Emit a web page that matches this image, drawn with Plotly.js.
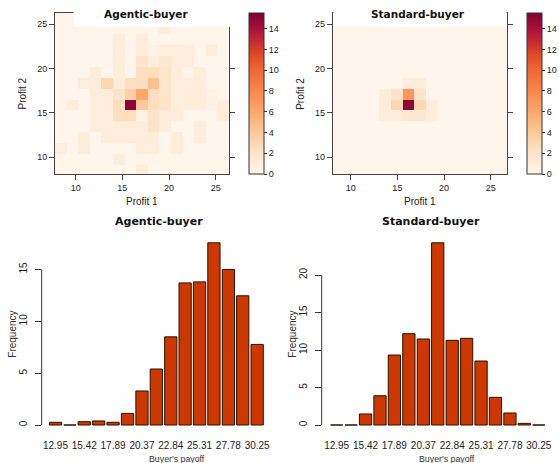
<!DOCTYPE html>
<html>
<head>
<meta charset="utf-8">
<script src="https://cdn.plot.ly/plotly-3.0.1.min.js"></script>
<style>html,body{margin:0;padding:0;background:#fff;}#chart{width:559px;height:463px;}</style>
</head>
<body>
<div id="chart"></div>
<script>
// ---------- DATA ----------
// Heatmap cell centres (Profit 1 / Profit 2 bins)
const profit1Agentic = [8.40, 9.65, 10.89, 12.13, 13.38, 14.62, 15.86, 17.10, 18.35, 19.59, 20.83, 22.08, 23.32, 24.56, 25.81];
const profit1Standard = [8.69, 9.94, 11.19, 12.43, 13.68, 14.93, 16.18, 17.42, 18.67, 19.92, 21.16, 22.41, 23.66, 24.90, 26.15];
const profit2Bins = [8.46, 9.70, 10.93, 12.17, 13.40, 14.64, 15.87, 17.11, 18.34, 19.58, 20.81, 22.05, 23.28, 24.52];

// Agentic-buyer counts, rows from bottom (Profit 2 = 8.46) to top (24.52)
const heatAgentic = [
  [0,0,0,0,0,0,0,1,0,0,0,0,0,0,0],
  [0,0,0,0,0,1,0,0,0,0,0,0,0,0,0],
  [1,0,1,0,0,0,0,1,1,0,1,0,0,0,0],
  [0,0,1,0,1,1,1,1,1,0,1,0,1,0,0],
  [0,0,0,1,1,1,1,1,2,1,0,0,1,0,0],
  [0,0,0,1,1,2.5,2.5,0.5,2,1,1,0,0,0,1],
  [0,1,0,1,1,2.5,15,4,2.5,2,1,1,1,0.5,1],
  [0,0,0,1,1,2,3.5,6,2.5,2,1,1,1,0.5,0],
  [0,0,1,1,3,1,2.5,2.5,4.5,2,1,1,1,0,0],
  [0,0,0,1,0,1,0,2.5,2.5,2,1,0.3,1,0,0],
  [0,0,0,0,0,1,0,2,1,1.5,1,1,0,0,0],
  [0,0,0,0,0,1,0,1,0.5,1,1,1,0,1,0],
  [0,0,0,0,0,1,0,1,0,0,0,0,0,0,0],
  [0,0,0,0,0,0,0,0,0,1,0,0,0,0,0]
];
// Standard-buyer counts, same row order
const heatStandard = [
  [0,0,0,0,0,0,0,0,0,0,0,0,0,0,0],
  [0,0,0,0,0,0,0,0,0,0,0,0,0,0,0],
  [0,0,0,0,0,0,0,0,0,0,0,0,0,0,0],
  [0,0,0,0,0,0,0,0,0,0,0,0,0,0,0],
  [0,0,0,0,0,0,0,0,0,0,0,0,0,0,0],
  [0,0,0,0,1,1,1.5,1.5,1,0,0,0,0,0,0],
  [0,0,0,0,1,3,15,3,1,0,0,0,0,0,0],
  [0,0,0,0,1,2,7,2,0,0,0,0,0,0,0],
  [0,0,0,0,0,0,1,1,0,0,0,0,0,0,0],
  [0,0,0,0,0,0,0,0,0,0,0,0,0,0,0],
  [0,0,0,0,0,0,0,0,0,0,0,0,0,0,0],
  [0,0,0,0,0,0,0,0,0,0,0,0,0,0,0],
  [0,0,0,0,0,0,0,0,0,0,0,0,0,0,0],
  [0,0,0,0,0,0,0,0,0,0,0,0,0,0,0]
];

// Histogram of buyer's payoff (percent)
const payoffBins = [12.95, 14.19, 15.42, 16.66, 17.89, 19.13, 20.37, 21.60, 22.84, 24.07, 25.31, 26.54, 27.78, 29.01, 30.25];
const payoffTickLabels = ["12.95","15.42","17.89","20.37","22.84","25.31","27.78","30.25"];
const freqAgentic = [0.26, 0, 0.32, 0.39, 0.26, 1.12, 3.28, 5.40, 8.50, 13.70, 13.80, 17.57, 15.00, 12.46, 7.77];
const freqStandard = [0, 0, 1.47, 3.90, 9.33, 12.18, 11.47, 24.30, 11.29, 11.56, 8.53, 3.69, 1.60, 0.22, 0];

const heatTicks = [10, 15, 20, 25];
const cbTicks = [0, 2, 4, 6, 8, 10, 12, 14];
const histTickVals = payoffBins.filter((v, i) => i % 2 === 0);

// ---------- LAYOUT HELPERS ----------
const W = 559, H = 463;
const fx = p => p / W;
const fy = p => 1 - p / H;
const base = '#FEF4EA';
const colorscale = [
  [0.00, '#FFF5EB'],
  [0.13, '#FEE4CA'],
  [0.26, '#FDC998'],
  [0.39, '#FDA66C'],
  [0.52, '#F8864A'],
  [0.645, '#EE6834'],
  [0.74, '#E04A25'],
  [0.82, '#C82A30'],
  [0.90, '#A8123A'],
  [1.00, '#800033']
];
const regFont = '"Liberation Sans", Arial, sans-serif';
const boldFont = '"DejaVu Sans", sans-serif';
const axCol = '#444';

function cb(xpx) {
  return {
    x: fx(xpx), xanchor: 'left', xpad: 0, xref: 'paper',
    y: fy(13), yanchor: 'top', ypad: 0, yref: 'paper',
    len: 161, lenmode: 'pixels', thickness: 15, thicknessmode: 'pixels',
    outlinewidth: 1, outlinecolor: '#333',
    ticks: 'outside', ticklen: 3, tickcolor: '#333',
    tickvals: cbTicks, tickfont: {family: regFont, size: 9, color: '#222'}
  };
}

const traces = [
  {type: 'heatmap', x: profit1Agentic, y: profit2Bins, z: heatAgentic, xaxis: 'x', yaxis: 'y',
   colorscale: colorscale, zmin: 0, zmax: 15.5, colorbar: cb(249), hoverinfo: 'skip'},
  {type: 'heatmap', x: profit1Standard, y: profit2Bins, z: heatStandard, xaxis: 'x2', yaxis: 'y2',
   colorscale: colorscale, zmin: 0, zmax: 15.5, colorbar: cb(526.7), hoverinfo: 'skip'},
  {type: 'bar', x: payoffBins, y: freqAgentic, xaxis: 'x3', yaxis: 'y3', width: 1.05,
   marker: {color: '#CD3700', line: {color: '#2B1100', width: 1}}, hoverinfo: 'skip'},
  {type: 'bar', x: payoffBins, y: freqStandard, xaxis: 'x4', yaxis: 'y4', width: 1.05,
   marker: {color: '#CD3700', line: {color: '#2B1100', width: 1}}, hoverinfo: 'skip'}
];

function heatX(dom, range, anchor) {
  return {domain: dom, range: range, anchor: anchor, tickvals: heatTicks, ticks: 'outside', ticklen: 5,
    tickcolor: axCol, showline: true, mirror: true, linecolor: axCol, linewidth: 1,
    showgrid: false, zeroline: false, tickfont: {family: regFont, size: 9, color: '#222'}};
}
function heatY(dom, range, anchor) {
  return {domain: dom, range: range, anchor: anchor, tickvals: heatTicks, ticks: 'outside', ticklen: 5,
    tickcolor: axCol, showline: true, mirror: 'ticks', linecolor: axCol, linewidth: 1,
    showgrid: false, zeroline: false, tickfont: {family: regFont, size: 9, color: '#222'}};
}
function histX(dom, range, anchor) {
  return {domain: dom, range: range, anchor: anchor, tickvals: histTickVals, ticktext: payoffTickLabels,
    ticks: '', showline: false, showgrid: false, zeroline: false,
    tickfont: {family: regFont, size: 10, color: '#222'}};
}
function histY(dom, range, anchor, dt) {
  return {domain: dom, range: range, anchor: anchor, dtick: dt, tick0: 0, ticks: 'outside', ticklen: 6,
    tickcolor: '#333', tickangle: -90, showline: false, showgrid: false, zeroline: false,
    ticklabelstandoff: 4, tickfont: {family: regFont, size: 10, color: '#222'}};
}

function ann(text, x, y, size, bold, angle, color) {
  return {text: text, x: fx(x), y: fy(y), xref: 'paper', yref: 'paper', showarrow: false,
    xanchor: 'center', yanchor: 'middle', textangle: angle || 0,
    font: {family: bold ? boldFont : regFont, size: size, color: color || '#111', weight: bold ? 'bold' : 'normal'}};
}

const layout = {
  width: W, height: H, margin: {l: 0, r: 0, t: 0, b: 0},
  paper_bgcolor: '#fff', plot_bgcolor: '#fff', showlegend: false,
  xaxis: heatX([fx(55), fx(229)], [7.78, 26.43], 'y'),
  yaxis: heatY([fy(174), fy(13)], [8.12, 26.27], 'x'),
  xaxis2: heatX([fx(332.7), fx(507.3)], [8.07, 26.78], 'y2'),
  yaxis2: heatY([fy(174), fy(13)], [8.12, 26.27], 'x2'),
  xaxis3: histX([fx(41.7), fx(270)], [11.77, 31.35], 'y3'),
  yaxis3: histY([fy(438), fy(240)], [-1.254, 17.84], 'x3', 5),
  xaxis4: histX([fx(321.7), fx(552)], [11.67, 31.38], 'y4'),
  yaxis4: histY([fy(438), fy(240)], [-1.733, 24.67], 'x4', 5),
  bargap: 0,
  shapes: [
    {type: 'rect', xref: 'x', yref: 'y', x0: 7.78, x1: 26.43, y0: 24.5, y1: 26.27,
     fillcolor: base, line: {width: 0}, layer: 'below'},
    {type: 'rect', xref: 'paper', yref: 'paper', x0: fx(73.5), x1: fx(236), y0: fy(26.7), y1: fy(9),
     fillcolor: '#fff', line: {width: 0}, layer: 'above'},
    {type: 'rect', xref: 'paper', yref: 'paper', x0: fx(333.4), x1: fx(506.6), y0: fy(26.7), y1: fy(9),
     fillcolor: '#fff', line: {width: 0}, layer: 'above'},
    {type: 'line', xref: 'paper', yref: 'y3', x0: fx(41.7), x1: fx(41.7), y0: 0, y1: 15,
     line: {color: '#333', width: 1}},
    {type: 'line', xref: 'paper', yref: 'y4', x0: fx(321.7), x1: fx(321.7), y0: 0, y1: 20,
     line: {color: '#333', width: 1}}
  ],
  annotations: [
    ann('Agentic-buyer', 146, 13.5, 10.5, true),
    ann('Standard-buyer', 418, 13.5, 10.5, true),
    ann('Profit 1', 142, 201, 10, false, 0, '#222'),
    ann('Profit 1', 420, 201, 10, false, 0, '#222'),
    ann('Profit 2', 22.5, 94, 10, false, -90, '#222'),
    ann('Profit 2', 300.8, 94, 10, false, -90, '#222'),
    ann('Agentic-buyer', 158.8, 221.7, 11, true),
    ann('Standard-buyer', 431.3, 221.5, 11, true),
    ann('Frequency', 11.7, 334, 10, false, -90, '#333'),
    ann('Frequency', 291.7, 334, 10, false, -90, '#333'),
    ann("Buyer's payoff", 176.5, 459, 8.8, false, 0, '#333'),
    ann("Buyer's payoff", 447, 459, 8.8, false, 0, '#333')
  ]
};

Plotly.newPlot('chart', traces, layout, {staticPlot: true, displayModeBar: false});
</script>
</body>
</html>
